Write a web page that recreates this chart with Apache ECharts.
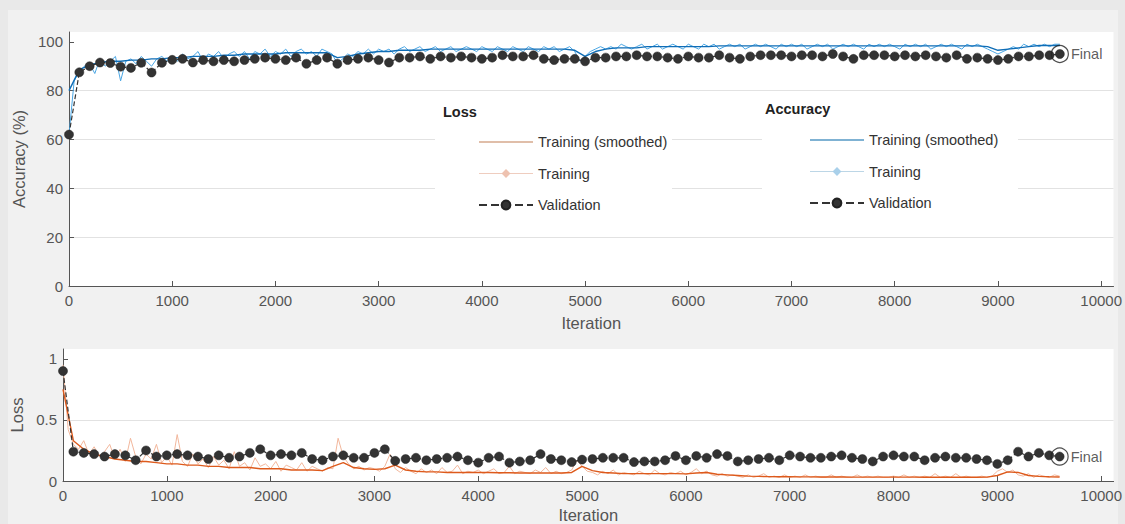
<!DOCTYPE html>
<html>
<head>
<meta charset="utf-8">
<script src="https://cdn.jsdelivr.net/npm/echarts@6/dist/echarts.min.js"></script>
<style>
html,body{margin:0;padding:0;background:#e9e9e9;}
#wrap{position:relative;width:1125px;height:524px;background:#e9e9e9;overflow:hidden;}
#panel{position:absolute;left:8px;top:10px;width:1110px;height:514px;background:#f1f1f1;}
#c{position:absolute;left:0;top:0;width:1125px;height:524px;}
</style>
</head>
<body>
<div id="wrap"><div id="panel"></div><div id="c"></div></div>
<script>
// ---- data ----
const rawStep = 50;   // iterations between plotted mini-batch points
const valStep = 100;  // iterations between validation points
const xTicks = [0,1000,2000,3000,4000,5000,6000,7000,8000,9000,10000];
const accTicks = [0,20,40,60,80,100];
const lossTicks = [0,0.5,1];

const accRaw = [
 62,84,88,90,91,87,93,90,92,94,
 84,92,93,91,94,92,90,93,94,92,
 94,92,95,93,94,96,92,95,94,96,
 93,95,96,94,96,93,96,95,97,94,
 96,95,97,94,96,97,95,96,94,97,
 96,95,91,93,95,94,96,95,97,95,
 97,96,97,95,97,98,96,97,98,96,
 97,98,96,97,98,96,97,98,97,96,
 98,97,96,98,97,96,98,97,96,98,
 97,96,98,97,98,96,97,98,96,92,
 94,96,97,98,97,98,97,99,98,97,
 98,99,97,98,99,97,98,99,98,97,
 99,98,97,99,98,99,97,98,99,98,
 99,97,98,99,98,99,98,97,99,98,
 99,98,99,97,98,99,98,99,97,98,
 99,98,99,98,97,99,98,99,98,99,
 98,97,99,98,99,98,99,97,98,99,
 98,99,98,97,99,98,99,98,97,96,
 95,96,97,98,97,99,98,99,98,99,
 98,99,99];
const accSmooth = [
 80,88.5,90.5,91.5,92,92,92.5,92.5,93,93,
 93.5,93.5,94,94,94,94.5,94.5,95,95,95,
 95,95.5,95.5,95.5,95.5,95.5,93.5,94,95,95.5,
 96,96,96.5,96.5,96.5,97,97,97,97,97,
 97,97,97,97,97,97,97,97,97,96.5,
 94,96,97,97.5,97.5,97.5,98,98,98,98,
 98,98,98,98.3,98.3,98.3,98.3,98.3,98.3,98.3,
 98.3,98.3,98.3,98.3,98.3,98.3,98.3,98.3,98.3,98.3,
 98.3,98.3,98.3,98.3,98.3,98.3,98.3,98.3,98.3,98,
 96.5,97,97.5,98,98.5,98.5,98.5];
const accVal = [
 62,87.5,90,91.5,91.3,89.8,89.3,91.4,87.4,91.4,
 92.6,93,91.5,92.5,92,92.5,92,92.5,93,93.5,
 93,92.5,93.5,91,92.5,93.5,91,92.5,93,93.5,
 92.5,91.5,93.5,93.5,94,93,94,93.5,94,93.5,
 93,93.5,94.5,94,94,94.5,93,92.5,93,93,
 92,93.5,93.5,94,94,94.5,94,94,93.5,93,
 94,93.5,93.5,94.5,93.5,93,94,94.5,94.5,94.5,
 94,94.5,94.5,94,95,94,93,94.5,94.5,94.5,
 94,94.5,94,94.5,94,93.5,94.5,93,93.5,93,
 92.5,93,94,94,94.5,94.5,95];

const lossRaw = [
 0.95,0.42,0.3,0.26,0.33,0.22,0.28,0.2,0.24,0.3,
 0.18,0.26,0.16,0.35,0.2,0.14,0.22,0.18,0.3,0.15,
 0.2,0.13,0.38,0.16,0.12,0.22,0.14,0.18,0.11,0.2,
 0.13,0.17,0.1,0.24,0.12,0.15,0.09,0.19,0.12,0.14,
 0.1,0.16,0.08,0.13,0.11,0.09,0.15,0.08,0.12,0.1,
 0.08,0.11,0.1,0.35,0.2,0.14,0.1,0.12,0.09,0.11,
 0.1,0.08,0.12,0.22,0.1,0.07,0.11,0.08,0.06,0.1,
 0.07,0.09,0.06,0.11,0.07,0.08,0.13,0.06,0.08,0.07,
 0.09,0.06,0.08,0.1,0.06,0.07,0.12,0.06,0.08,0.07,
 0.06,0.09,0.07,0.11,0.06,0.08,0.06,0.07,0.09,0.17,
 0.12,0.08,0.07,0.05,0.08,0.06,0.09,0.05,0.07,0.06,
 0.05,0.08,0.06,0.05,0.09,0.06,0.05,0.07,0.06,0.08,
 0.05,0.07,0.1,0.06,0.08,0.05,0.04,0.06,0.04,0.05,
 0.04,0.03,0.05,0.03,0.04,0.06,0.03,0.04,0.03,0.05,
 0.03,0.04,0.03,0.05,0.03,0.04,0.03,0.03,0.05,0.03,
 0.04,0.03,0.03,0.05,0.03,0.04,0.03,0.04,0.03,0.03,
 0.04,0.03,0.05,0.03,0.04,0.03,0.04,0.03,0.06,0.03,
 0.04,0.03,0.06,0.03,0.04,0.03,0.03,0.04,0.03,0.04,
 0.08,0.1,0.07,0.09,0.05,0.04,0.06,0.03,0.05,0.04,
 0.03,0.05,0.04];
const lossSmooth = [
 0.75,0.33,0.26,0.22,0.2,0.18,0.17,0.16,0.16,0.15,
 0.14,0.14,0.13,0.13,0.12,0.12,0.11,0.11,0.11,0.1,
 0.1,0.1,0.09,0.09,0.09,0.085,0.12,0.15,0.11,0.1,
 0.095,0.1,0.13,0.09,0.08,0.075,0.075,0.07,0.07,0.07,
 0.07,0.07,0.068,0.068,0.065,0.065,0.065,0.065,0.065,0.07,
 0.12,0.085,0.07,0.065,0.06,0.06,0.06,0.06,0.06,0.06,
 0.058,0.065,0.07,0.055,0.05,0.045,0.04,0.038,0.036,0.035,
 0.035,0.034,0.034,0.033,0.033,0.033,0.032,0.032,0.032,0.032,
 0.032,0.032,0.032,0.031,0.031,0.031,0.031,0.031,0.031,0.032,
 0.045,0.075,0.07,0.045,0.038,0.035,0.033];
const lossVal = [
 0.90,0.24,0.23,0.22,0.20,0.22,0.21,0.17,0.25,0.20,
 0.21,0.22,0.21,0.20,0.18,0.21,0.19,0.20,0.23,0.26,
 0.21,0.22,0.21,0.23,0.18,0.17,0.20,0.21,0.19,0.19,
 0.23,0.26,0.165,0.18,0.19,0.17,0.18,0.19,0.20,0.17,
 0.15,0.19,0.20,0.15,0.16,0.17,0.22,0.18,0.17,0.155,
 0.175,0.18,0.19,0.19,0.19,0.155,0.16,0.16,0.17,0.205,
 0.17,0.205,0.19,0.22,0.205,0.16,0.17,0.18,0.19,0.17,
 0.21,0.20,0.19,0.19,0.20,0.21,0.19,0.18,0.16,0.20,
 0.21,0.20,0.20,0.17,0.19,0.20,0.19,0.19,0.18,0.17,
 0.14,0.17,0.24,0.20,0.23,0.21,0.20];

// ---- build ----
const pairs = (arr, step) => arr.map((v, i) => [i * step, v]);
const FONT = '"Liberation Sans", Arial, sans-serif';
const AX = '#555';
const plain = v => String(v);

function xAxisFor(grid, gap) {
  return {
    type: 'value', gridIndex: grid, min: 0, max: 10120, interval: 1000,
    axisLine: { show: true, lineStyle: { color: AX, width: 1 } },
    axisTick: { show: true, inside: true, length: 5, customValues: xTicks, lineStyle: { color: AX } },
    axisLabel: { customValues: xTicks, formatter: plain, color: AX, fontSize: 15, margin: 7, fontFamily: FONT },
    splitLine: { show: false },
    name: 'Iteration', nameLocation: 'middle', nameGap: gap,
    nameTextStyle: { color: AX, fontSize: 16.5, fontFamily: FONT }
  };
}
function yAxisFor(grid, max, interval, ticks, name, gap) {
  return {
    type: 'value', gridIndex: grid, min: 0, max: max, interval: interval,
    axisLine: { show: true, lineStyle: { color: AX, width: 1 } },
    axisTick: { show: true, inside: true, length: 5, customValues: ticks, lineStyle: { color: AX } },
    axisLabel: { customValues: ticks, formatter: plain, color: AX, fontSize: 15, margin: 6, fontFamily: FONT },
    splitLine: { show: true, showMaxLine: false, showMinLine: false, lineStyle: { color: '#e2e2e2', width: 1 } },
    name: name, nameLocation: 'middle', nameRotate: 90, nameGap: gap,
    nameTextStyle: { color: AX, fontSize: 16.5, fontFamily: FONT }
  };
}

const stripName = n => n.replace(/^(Loss|Accuracy) /, '');
const legendBase = {
  orient: 'vertical', itemWidth: 54, itemHeight: 11, itemGap: 16.5, padding: 0,
  selectedMode: false, formatter: stripName, z: 10,
  textStyle: { fontSize: 14.5, color: '#333', fontFamily: FONT }
};
const hiddenMark = { color: 'rgba(255,255,255,0)', borderColor: 'rgba(255,255,255,0)', borderWidth: 0 };

const chart = echarts.init(document.getElementById('c'), null, { renderer: 'svg' });
chart.setOption({
  animation: false,
  grid: [
    { left: 69, right: 11, top: 32, height: 254, show: true, backgroundColor: '#ffffff', borderWidth: 0 },
    { left: 63, right: 11, top: 349, height: 133, show: true, backgroundColor: '#ffffff', borderWidth: 0 }
  ],
  xAxis: [xAxisFor(0, 28), xAxisFor(1, 25)],
  yAxis: [
    yAxisFor(0, 104, 20, accTicks, 'Accuracy (%)', 35),
    yAxisFor(1, 1.08, 0.5, lossTicks, 'Loss', 29)
  ],
  graphic: [
    { type: 'rect', shape: { x: 435, y: 96, width: 237, height: 130 }, style: { fill: '#ffffff' }, z: 3, silent: true },
    { type: 'rect', shape: { x: 762, y: 96, width: 256, height: 130 }, style: { fill: '#ffffff' }, z: 3, silent: true },
    { type: 'text', left: 443, top: 104, z: 10, style: { text: 'Loss', font: 'bold 14.5px "Liberation Sans", Arial, sans-serif', fill: '#222' } },
    { type: 'text', left: 765, top: 101, z: 10, style: { text: 'Accuracy', font: 'bold 14.5px "Liberation Sans", Arial, sans-serif', fill: '#222' } }
  ],
  legend: [
    Object.assign({}, legendBase, {
      left: 478, top: 134.5,
      data: [
        { name: 'Loss Training (smoothed)', lineStyle: { color: '#d6a98c', width: 1.5 }, itemStyle: hiddenMark },
        { name: 'Loss Training', lineStyle: { color: '#efcdbf', width: 1.2 }, itemStyle: { color: '#eec2b0', borderWidth: 0 } },
        { name: 'Loss Validation' }
      ]
    }),
    Object.assign({}, legendBase, {
      left: 809, top: 132.5,
      data: [
        { name: 'Accuracy Training (smoothed)', lineStyle: { color: '#5599c4', width: 1.5 }, itemStyle: hiddenMark },
        { name: 'Accuracy Training', lineStyle: { color: '#bcd6e6', width: 1.2 }, itemStyle: { color: '#a9d0ea', borderWidth: 0 } },
        { name: 'Accuracy Validation' }
      ]
    })
  ],
  series: [
    { name: 'Accuracy Training', type: 'line', xAxisIndex: 0, yAxisIndex: 0, data: pairs(accRaw, rawStep),
      symbol: 'diamond', showSymbol: false, symbolSize: 10, z: 1, silent: true,
      lineStyle: { color: '#4aa6e4', width: 1 }, itemStyle: { color: '#a9d0ea' } },
    { name: 'Accuracy Training (smoothed)', type: 'line', xAxisIndex: 0, yAxisIndex: 0, data: pairs(accSmooth, valStep),
      symbol: 'circle', showSymbol: false, z: 2, silent: true, lineStyle: { color: '#0f6db6', width: 1.4 }, itemStyle: { color: '#0f6db6' } },
    { name: 'Accuracy Validation', type: 'line', xAxisIndex: 0, yAxisIndex: 0, data: pairs(accVal, valStep),
      symbol: 'circle', symbolSize: 9, showSymbol: true, z: 3, silent: true,
      lineStyle: { color: '#333', width: 1.2, type: 'dashed' }, itemStyle: { color: '#333', borderColor: '#222', borderWidth: 0.5 } },
    { name: 'Accuracy Final', type: 'scatter', xAxisIndex: 0, yAxisIndex: 0,
      data: [[(accVal.length - 1) * valStep, accVal[accVal.length - 1]]],
      symbol: 'circle', symbolSize: 17, z: 4, silent: true,
      itemStyle: { color: 'rgba(255,255,255,0)', borderColor: '#222', borderWidth: 1.2 },
      label: { show: true, position: 'right', distance: 2, formatter: 'Final', color: '#333', fontSize: 14.5, fontFamily: FONT } },

    { name: 'Loss Training', type: 'line', xAxisIndex: 1, yAxisIndex: 1, data: pairs(lossRaw, rawStep),
      symbol: 'diamond', showSymbol: false, symbolSize: 10, z: 1, silent: true,
      lineStyle: { color: '#f2b79c', width: 1 }, itemStyle: { color: '#eec2b0' } },
    { name: 'Loss Training (smoothed)', type: 'line', xAxisIndex: 1, yAxisIndex: 1, data: pairs(lossSmooth, valStep),
      symbol: 'circle', showSymbol: false, z: 2, silent: true, lineStyle: { color: '#dd5a1c', width: 1.4 }, itemStyle: { color: '#dd5a1c' } },
    { name: 'Loss Validation', type: 'line', xAxisIndex: 1, yAxisIndex: 1, data: pairs(lossVal, valStep),
      symbol: 'circle', symbolSize: 9, showSymbol: true, z: 3, silent: true,
      lineStyle: { color: '#333', width: 1.2, type: 'dashed' }, itemStyle: { color: '#333', borderColor: '#222', borderWidth: 0.5 } },
    { name: 'Loss Final', type: 'scatter', xAxisIndex: 1, yAxisIndex: 1,
      data: [[(lossVal.length - 1) * valStep, lossVal[lossVal.length - 1]]],
      symbol: 'circle', symbolSize: 17, z: 4, silent: true,
      itemStyle: { color: 'rgba(255,255,255,0)', borderColor: '#222', borderWidth: 1.2 },
      label: { show: true, position: 'right', distance: 2, formatter: 'Final', color: '#333', fontSize: 14.5, fontFamily: FONT } }
  ]
});
</script>
</body>
</html>
